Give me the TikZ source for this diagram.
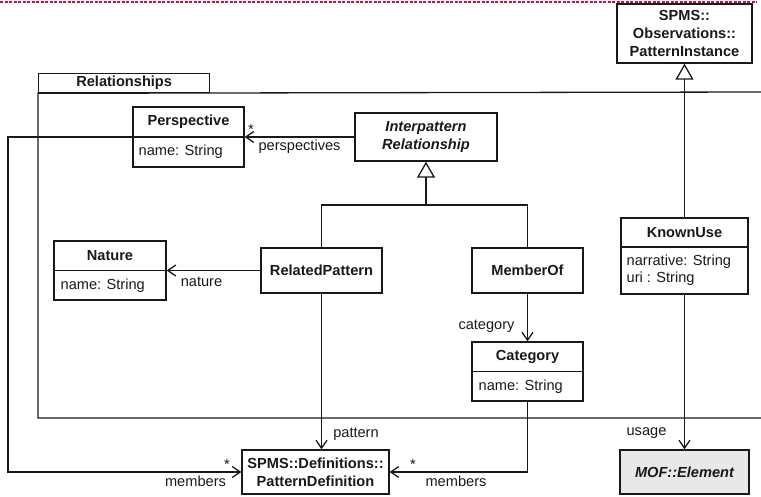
\documentclass[tikz,border=0pt]{standalone}
\usepackage{fontspec}
\setmainfont{Liberation Sans}
\usetikzlibrary{arrows.meta}
\definecolor{frame}{RGB}{200,20,60}
\definecolor{gfill}{RGB}{232,232,232}
\definecolor{ink}{RGB}{25,25,25}
\begin{document}
\begin{tikzpicture}[x=1pt,y=-1pt,
  line width=1.3pt, draw=ink,
  txt/.style={inner sep=0pt, text=ink, font=\fontsize{14.6pt}{17.5pt}\selectfont},
  ttl/.style={txt, font=\fontsize{14.6pt}{18pt}\selectfont\bfseries},
  ittl/.style={txt, font=\fontsize{14.6pt}{18.5pt}\selectfont\bfseries\itshape},
  box/.style={draw=ink, line width=1.3pt, inner sep=0pt},
  assoc/.style={draw=ink, -{Straight Barb[length=8pt,width=11pt,line width=1.3pt]}},
  gen/.style={draw=ink, -{Triangle[open,length=16pt,width=18pt,fill=white,line width=1.3pt]}},
  plain/.style={draw=ink}
]
\useasboundingbox (0,0) rectangle (761,497);

% top dotted frame line
\draw[frame, line width=1.4pt, dash pattern=on 3pt off 1.5pt] (0,2) -- (757,2);

% package
\node[box, minimum width=171pt, minimum height=19pt, anchor=north west] (tab) at (38,73) {};
\node[ttl] (tabT) at (tab.center) {Relationships};
\coordinate (pkgBL) at (38,418);
\coordinate (pkgTR) at (765,92);
\coordinate (pkgBR) at (765,418);
\draw[plain] (pkgTR) -- (tab.south west) -- (pkgBL) -- (pkgBR);

% PatternInstance
\node[box, minimum width=135pt, minimum height=59pt] (pinst) at (684.5,33.5) {};
\node[ttl, align=center] (pinstT) at (pinst.center) {SPMS::\\Observations::\\PatternInstance};

% Perspective
\node[box, minimum width=111pt, minimum height=60pt] (persp) at (188.5,137) {};
\node[ttl] (perspT) at (188.5,122) {Perspective};
\node[txt, anchor=west] (perspA) at (138,152) {name: String};
\draw[plain] (persp.west) -- (persp.east);

% Interpattern Relationship
\node[box, minimum width=142pt, minimum height=48pt] (inter) at (426,137) {};
\node[ittl, align=center] (interT) at (inter.center) {Interpattern\\Relationship};

% Nature
\node[box, minimum width=112pt, minimum height=59pt] (nat) at (110,270.5) {};
\node[ttl] (natT) at (110,256) {Nature};
\node[txt, anchor=west] (natA) at (60,286) {name: String};
\draw[plain] (nat.west) -- (nat.east);

% RelatedPattern
\node[box, minimum width=121pt, minimum height=45pt] (rel) at (321.5,270.5) {};
\node[ttl] (relT) at (rel.center) {RelatedPattern};

% MemberOf
\node[box, minimum width=111pt, minimum height=45pt] (mem) at (527.5,270.5) {};
\node[ttl] (memT) at (mem.center) {MemberOf};

% KnownUse
\node[box, minimum width=127pt, minimum height=76pt] (known) at (684.5,256) {};
\node[ttl] (knownT) at (684.5,233) {KnownUse};
\node[txt, anchor=north west, align=left] (knownA) at (626,254) {narrative: String\\uri : String};
\draw[plain] (known.west |- 0,247) -- (known.east |- 0,247);

% Category
\node[box, minimum width=111pt, minimum height=59pt] (cat) at (527.5,371.5) {};
\node[ttl] (catT) at (527.5,357) {Category};
\node[txt, anchor=west] (catA) at (478,387) {name: String};
\draw[plain] (cat.west) -- (cat.east);

% PatternDefinition
\node[box, minimum width=147pt, minimum height=44pt] (pdef) at (315.5,472) {};
\node[ttl, align=center] (pdefT) at (pdef.center) {SPMS::Definitions::\\PatternDefinition};

% MOF::Element
\node[box, fill=gfill, minimum width=129pt, minimum height=44pt] (mof) at (684.5,472) {};
\node[ittl] (mofT) at (mof.center) {MOF::Element};

% generalizations
\coordinate (gjoin) at (426,205);
\draw[plain] (rel.north) |- (gjoin);
\draw[plain] (mem.north) |- (gjoin);
\draw[gen] (gjoin) -- (inter.south);
\draw[gen] (known.north) -- (pinst.south);

% associations
\draw[assoc] (inter.west |- persp.east) -- (persp.east);
\node[txt] (s1) at (251,129) {*};
\node[txt] (perspL) at (299.5,147) {perspectives};

\draw[assoc] (rel.west) -- (rel.west -| nat.east);
\node[txt] (natL) at (201.5,282) {nature};

\draw[assoc] (rel.south) -- (rel.south |- pdef.north);
\node[txt] (patL) at (356,434) {pattern};

\draw[assoc] (mem.south) -- (cat.north);
\node[txt] (catL) at (486.5,326) {category};

\coordinate (c1) at (527.5,472);
\draw[assoc] (cat.south) -- (c1) -- (pdef.east);
\node[txt] (s2) at (413,464) {*};
\node[txt] (memL2) at (456,481) {members};

\coordinate (p1) at (8,137);
\coordinate (p2) at (8,472);
\draw[assoc] (persp.west) -- (p1) -- (p2) -- (pdef.west);
\node[txt] (s3) at (227,464) {*};
\node[txt] (memL1) at (195.5,481) {members};

\draw[assoc] (known.south) -- (mof.north);
\node[txt] (useL) at (646.5,433) {usage};
\end{tikzpicture}
\end{document}
